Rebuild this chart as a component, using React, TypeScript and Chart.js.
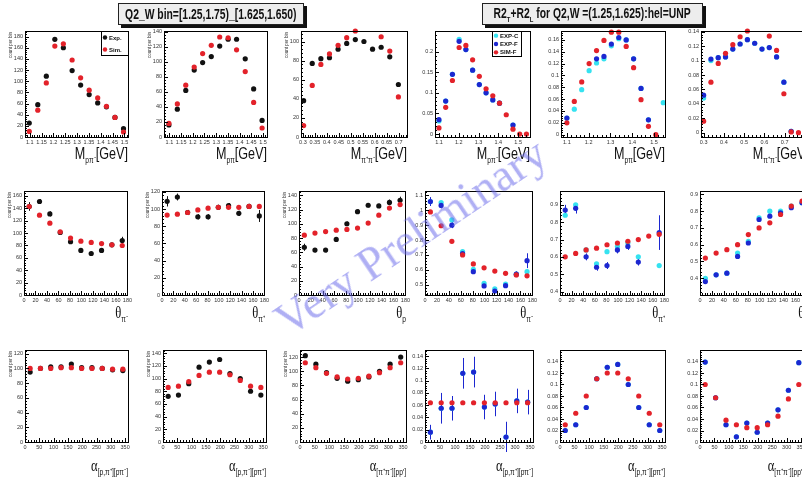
import React, { useEffect, useRef } from "react";
import { Chart, registerables } from "chart.js";

Chart.register(...registerables);

// ---------------- data ----------------
const M_PPI_BINS = [1.098, 1.134, 1.170, 1.206, 1.242, 1.279, 1.315, 1.351, 1.387, 1.424, 1.460, 1.496];
const M_PIPI_BINS = [0.303, 0.339, 0.375, 0.411, 0.447, 0.483, 0.519, 0.555, 0.591, 0.627, 0.663, 0.699];
const M_PPI_BINS_R = [1.100, 1.134, 1.168, 1.202, 1.236, 1.270, 1.304, 1.338, 1.372, 1.406, 1.440, 1.474, 1.508, 1.542];
const M_PIPI_BINS_R = [0.300, 0.336, 0.372, 0.408, 0.444, 0.480, 0.516, 0.552, 0.588, 0.624, 0.660, 0.696, 0.732, 0.768];
const THETA_BINS = [9, 27, 45, 63, 81, 99, 117, 135, 153, 171];
const ALPHA_BINS = [18, 54, 90, 126, 162, 198, 234, 270, 306, 342];

const M_TICKS_L = [1.1, 1.15, 1.2, 1.25, 1.3, 1.35, 1.4, 1.45, 1.5];
const MPIPI_TICKS_L = [0.3, 0.35, 0.4, 0.45, 0.5, 0.55, 0.6, 0.65, 0.7];
const M_TICKS_R = [1.1, 1.2, 1.3, 1.4, 1.5];
const MPIPI_TICKS_R = [0.3, 0.4, 0.5, 0.6, 0.7];
const THETA_TICKS = [0, 20, 40, 60, 80, 100, 120, 140, 160, 180];
const ALPHA_TICKS = [0, 50, 100, 150, 200, 250, 300, 350];

const Y_TICKS_180 = [0, 20, 40, 60, 80, 100, 120, 140, 160, 180];
const Y_TICKS_160 = [0, 20, 40, 60, 80, 100, 120, 140, 160];
const Y_TICKS_140 = [0, 20, 40, 60, 80, 100, 120, 140];
const Y_TICKS_120 = [0, 20, 40, 60, 80, 100, 120];
const Y_TICKS_100 = [0, 20, 40, 60, 80, 100];
const Y_TICKS_P20 = [0, 0.05, 0.1, 0.15, 0.2];
const Y_TICKS_P16 = [0, 0.02, 0.04, 0.06, 0.08, 0.1, 0.12, 0.14, 0.16];
const Y_TICKS_P14 = [0, 0.02, 0.04, 0.06, 0.08, 0.1, 0.12, 0.14];
const Y_TICKS_TH = [0.5, 0.6, 0.7, 0.8, 0.9, 1, 1.1];
const Y_TICKS_TH2 = [0.4, 0.5, 0.6, 0.7, 0.8, 0.9];

// row 1, left (Exp / Sim)
const p1Exp = [25, 58, 109, 175, 160, 119, 93, 76, 61, 54, 35, 15];
const p1Sim = [10, 48, 97, 163, 167, 138, 106, 84, 70, 55, 35, 9];
const p2Exp = [16, 37, 62, 89, 99, 107, 121, 130, 130, 104, 64, 22];
const p2Sim = [18, 44, 69, 93, 111, 122, 133, 132, 116, 87, 46, 12];
const p3Exp = [38, 77, 82, 83, 92, 98, 102, 100, 92, 94, 84, 55];
const p3Sim = [12, 54, 76, 87, 96, 104, 111, null, null, 105, 90, 42];
// row 1, right (EXP-C / EXP-F / SIM-F)
const p4ExpC = [0.032, 0.08, 0.145, 0.23, 0.205, 0.155, 0.12, 0.1, 0.083, 0.075, null, 0.022, null, null];
const p4ExpF = [0.035, 0.08, 0.145, 0.225, 0.205, 0.155, 0.12, 0.1, 0.083, 0.075, null, 0.022, null, null];
const p4SimF = [0.015, 0.065, 0.13, 0.21, 0.215, 0.18, 0.14, 0.11, 0.093, 0.075, 0.047, 0.012, 0, 0];
const p5ExpC = [0.028, 0.043, 0.076, 0.108, 0.121, 0.128, 0.15, 0.162, 0.16, 0.128, 0.078, 0.025, null, 0.054];
const p5ExpF = [0.028, null, null, null, 0.128, 0.132, 0.153, 0.164, 0.16, 0.128, 0.078, 0.025, null, null];
const p5SimF = [0.02, 0.056, 0.089, 0.12, 0.142, 0.159, 0.173, 0.173, 0.149, 0.113, 0.059, 0.014, 0, null];
const p6ExpC = [0.048, 0.1, 0.104, 0.105, 0.116, 0.123, 0.129, 0.124, 0.116, 0.118, 0.105, 0.07, 0.002, null];
const p6ExpF = [0.052, 0.102, 0.104, 0.105, 0.116, 0.123, 0.129, 0.124, 0.116, 0.118, 0.105, 0.07, 0.002, null];
const p6SimF = [0.016, 0.07, 0.096, 0.11, 0.122, 0.133, 0.141, null, null, 0.134, 0.114, 0.054, 0.001, 0];
// row 2, left
const p7Exp = [143, 151, 131, 101, 86, 72, 67, 72, 81, 88];
const p7ExpErr = [7, 4, 4, 3, 3, 3, 3, 3, 3, 6];
const p7Sim = [143, 129, 116, 102, 92, 87, 85, 83, 81, 80];
const p8Exp = [109, 114, 96, 91, 91, 102, 104, 95, 103, 92];
const p8ExpErr = [6, 4, 3, 3, 3, 3, 3, 3, 3, 7];
const p8Sim = [93, 94, 96, 99, 101, 102, 102, 102, 103, 103];
const p9Exp = [67, 63, 63, 78, 100, 117, 126, 125, 130, 133];
const p9ExpErr = [5, 3, 3, 3, 3, 3, 3, 3, 4, 5];
const p9Sim = [84, 87, 89, 91, 92, 94, 101, 112, 122, 127];
// row 2, right
const p10ExpC = [1.059, 1.052, 0.935, 0.722, 0.602, 0.509, 0.472, 0.504, 0.57, 0.587];
const p10ExpF = [1.059, 1.033, 0.9, 0.709, 0.587, 0.491, 0.457, 0.493, 0.57, 0.661];
const p10ExpFErr = [0.03, 0.02, 0.02, 0.01, 0.01, 0.01, 0.01, 0.01, 0.02, 0.05];
const p10SimF = [0.989, 0.896, 0.791, 0.7, 0.639, 0.613, 0.591, 0.576, 0.565, 0.559];
const p11ExpC = [0.84, 0.9, 0.64, 0.56, 0.63, 0.66, 0.68, 0.6, null, 0.55];
const p11ExpF = [0.87, 0.88, 0.6, 0.54, 0.55, 0.64, 0.66, 0.57, null, 0.74];
const p11ExpFErr = [0.03, 0.03, 0.02, 0.02, 0.02, 0.02, 0.02, 0.02, 0, 0.1];
const p11SimF = [0.6, 0.62, 0.64, 0.65, 0.67, 0.68, 0.69, 0.7, 0.72, 0.73];
const p12ExpC = [0.4, 0.42, 0.43, 0.55, 0.62, 0.76, 0.8, 0.8, 0.83, 0.85];
const p12ExpF = [0.38, 0.42, 0.43, 0.53, 0.61, 0.75, 0.77, 0.79, 0.82, 0.85];
const p12SimF = [0.52, 0.55, 0.57, 0.6, 0.66, 0.7, 0.73, 0.78, 0.83, 0.86];
// row 3, left
const p13Exp = [95, 100, 102, 102, 106, 101, 101, 100, 98, 97];
const p13Sim = [100, 100, 100, 101, 101, 100, 100, 100, 99, 99];
const p14Exp = [72, 74, 92, 118, 126, 130, 108, 100, 80, 74];
const p14Sim = [86, 88, 95, 105, 110, 110, 106, 97, 88, 86];
const p15Exp = [122, 110, 98, 90, 86, 88, 92, 100, 110, 120];
const p15Sim = [112, 105, 97, 92, 89, 90, 93, 98, 105, 112];
// row 3, right
const p16ExpF = [0.016, 0.055, 0.055, 0.112, 0.114, 0.057, 0.062, 0.008, 0.067, 0.065];
const p16ExpFErr = [0.012, 0.025, 0.02, 0.025, 0.025, 0.02, 0.02, 0.025, 0.02, 0.02];
const p16SimF = [0.064, 0.064, 0.064, 0.064, 0.064, 0.064, 0.064, 0.064, 0.064, 0.064];
const p17ExpC = [0.02, 0.03, 0.06, 0.11, 0.13, 0.135, 0.1, 0.06, 0.03, 0.02];
const p17ExpF = [0.02, 0.03, 0.06, 0.11, 0.13, 0.135, 0.1, 0.06, 0.03, 0.02];
const p17SimF = [0.03, 0.05, 0.08, 0.11, 0.12, 0.12, 0.11, 0.08, 0.05, 0.03];
const p18ExpF = [0.139, 0.077, 0.03, 0.009, 0.033, 0.017, 0.033, 0.056, 0.09, 0.138];
const p18SimF = [0.1, 0.077, 0.038, 0.03, 0.025, 0.025, 0.03, 0.045, 0.075, 0.1];

// ---------------- styles ----------------
const BLACK = "#111111";
const RED = "#e3222a";
const BLUE = "#1c27d0";
const CYAN = "#35e2f0";

type Series = { name: string; color: string; x: number[]; y: (number | null)[]; err?: number[] };
type Panel = {
  rect: [number, number, number, number];
  xMin: number; xMax: number; xTicks: number[];
  yMin: number; yMax: number; yTicks: number[];
  series: Series[];
  yTitle?: boolean;
  legend?: { x: number; y: number; w: number; h: number };
  title: { sym: string; sub: string; unit: string; serif: boolean };
};

const lr = (x: number[], e: (number | null)[], s: (number | null)[], eErr?: number[]): Series[] => [
  { name: "Exp.", color: BLACK, x, y: e, err: eErr },
  { name: "Sim.", color: RED, x, y: s },
];
const rr = (x: number[], c: (number | null)[], f: (number | null)[], s: (number | null)[], fErr?: number[]): Series[] => [
  { name: "EXP-C", color: CYAN, x, y: c },
  { name: "EXP-F", color: BLUE, x, y: f, err: fErr },
  { name: "SIM-F", color: RED, x, y: s },
];

const R1 = 31, H1 = 106, R2 = 191, H2 = 104, R3 = 350, H3 = 92;

const PANELS: Panel[] = [
  { rect: [25, R1, 103, H1], xMin: 1.08, xMax: 1.515, xTicks: M_TICKS_L, yMin: 0, yMax: 190, yTicks: Y_TICKS_180,
    series: lr(M_PPI_BINS, p1Exp, p1Sim), yTitle: true, legend: { x: 101, y: 31, w: 27, h: 24 },
    title: { sym: "M", sub: "pπ⁻", unit: "[GeV]", serif: false } },
  { rect: [164, R1, 103, H1], xMin: 1.077, xMax: 1.517, xTicks: M_TICKS_L, yMin: 0, yMax: 141, yTicks: Y_TICKS_140,
    series: lr(M_PPI_BINS, p2Exp, p2Sim), yTitle: true, title: { sym: "M", sub: "pπ", unit: "[GeV]", serif: false } },
  { rect: [301, R1, 106, H1], xMin: 0.292, xMax: 0.735, xTicks: MPIPI_TICKS_L, yMin: 0, yMax: 111, yTicks: Y_TICKS_100,
    series: lr(M_PIPI_BINS, p3Exp, p3Sim), yTitle: true, title: { sym: "M", sub: "π⁺π⁻", unit: "[GeV]", serif: false } },
  { rect: [435, R1, 95, H1], xMin: 1.08, xMax: 1.56, xTicks: M_TICKS_R, yMin: -0.007, yMax: 0.25, yTicks: Y_TICKS_P20,
    series: rr(M_PPI_BINS_R, p4ExpC, p4ExpF, p4SimF), legend: { x: 492, y: 31, w: 29, h: 25 },
    title: { sym: "M", sub: "pπ⁻", unit: "[GeV]", serif: false } },
  { rect: [561, R1, 104, H1], xMin: 1.073, xMax: 1.55, xTicks: M_TICKS_R, yMin: -0.004, yMax: 0.175, yTicks: Y_TICKS_P16,
    series: rr(M_PPI_BINS_R, p5ExpC, p5ExpF, p5SimF), title: { sym: "M", sub: "pπ", unit: "[GeV]", serif: false } },
  { rect: [701, R1, 108, H1], xMin: 0.287, xMax: 0.82, xTicks: MPIPI_TICKS_R, yMin: -0.006, yMax: 0.141, yTicks: Y_TICKS_P14,
    series: rr(M_PIPI_BINS_R, p6ExpC, p6ExpF, p6SimF), title: { sym: "M", sub: "π⁺π⁻", unit: "[GeV]", serif: false } },

  { rect: [24, R2, 104, H2], xMin: 0, xMax: 180, xTicks: THETA_TICKS, yMin: 0, yMax: 168, yTicks: Y_TICKS_160,
    series: lr(THETA_BINS, p7Exp, p7Sim, p7ExpErr), yTitle: true, title: { sym: "θ", sub: "π⁻", unit: "", serif: true } },
  { rect: [162, R2, 103, H2], xMin: 0, xMax: 180, xTicks: THETA_TICKS, yMin: 0, yMax: 121, yTicks: Y_TICKS_120,
    series: lr(THETA_BINS, p8Exp, p8Sim, p8ExpErr), yTitle: true, title: { sym: "θ", sub: "π⁺", unit: "", serif: true } },
  { rect: [299, R2, 107, H2], xMin: 0, xMax: 180, xTicks: THETA_TICKS, yMin: 0, yMax: 146, yTicks: Y_TICKS_140,
    series: lr(THETA_BINS, p9Exp, p9Sim, p9ExpErr), yTitle: true, title: { sym: "θ", sub: "p", unit: "", serif: true } },
  { rect: [425, R2, 108, H2], xMin: 0, xMax: 180, xTicks: THETA_TICKS, yMin: 0.43, yMax: 1.13, yTicks: Y_TICKS_TH,
    series: rr(THETA_BINS, p10ExpC, p10ExpF, p10SimF, p10ExpFErr), title: { sym: "θ", sub: "π⁻", unit: "", serif: true } },
  { rect: [560, R2, 105, H2], xMin: 0, xMax: 180, xTicks: THETA_TICKS, yMin: 0.38, yMax: 0.98, yTicks: Y_TICKS_TH2,
    series: rr(THETA_BINS, p11ExpC, p11ExpF, p11SimF, p11ExpFErr), title: { sym: "θ", sub: "π⁺", unit: "", serif: true } },
  { rect: [700, R2, 108, H2], xMin: 0, xMax: 180, xTicks: THETA_TICKS, yMin: 0.3, yMax: 0.92, yTicks: Y_TICKS_TH2,
    series: rr(THETA_BINS, p12ExpC, p12ExpF, p12SimF), title: { sym: "θ", sub: "p", unit: "", serif: true } },

  { rect: [25, R3, 103, H3], xMin: 0, xMax: 360, xTicks: ALPHA_TICKS, yMin: 0, yMax: 125, yTicks: Y_TICKS_120,
    series: lr(ALPHA_BINS, p13Exp, p13Sim), yTitle: true, title: { sym: "α", sub: "[p,π⁺][pπ⁻]", unit: "", serif: true } },
  { rect: [163, R3, 103, H3], xMin: 0, xMax: 360, xTicks: ALPHA_TICKS, yMin: 0, yMax: 145, yTicks: Y_TICKS_140,
    series: lr(ALPHA_BINS, p14Exp, p14Sim), yTitle: true, title: { sym: "α", sub: "[p,π⁻][pπ⁺]", unit: "", serif: true } },
  { rect: [300, R3, 106, H3], xMin: 0, xMax: 360, xTicks: ALPHA_TICKS, yMin: 0, yMax: 130, yTicks: Y_TICKS_120,
    series: lr(ALPHA_BINS, p15Exp, p15Sim), yTitle: true, title: { sym: "α", sub: "[π⁺π⁻][pp']", unit: "", serif: true } },
  { rect: [425, R3, 108, H3], xMin: 0, xMax: 360, xTicks: ALPHA_TICKS, yMin: 0, yMax: 0.15, yTicks: Y_TICKS_P14,
    series: rr(ALPHA_BINS, p16ExpF, p16ExpF, p16SimF, p16ExpFErr), title: { sym: "α", sub: "[p,π⁺][pπ⁻]", unit: "", serif: true } },
  { rect: [560, R3, 105, H3], xMin: 0, xMax: 360, xTicks: ALPHA_TICKS, yMin: 0, yMax: 0.16, yTicks: Y_TICKS_P14,
    series: rr(ALPHA_BINS, p17ExpC, p17ExpF, p17SimF), title: { sym: "α", sub: "[p,π⁻][pπ⁺]", unit: "", serif: true } },
  { rect: [700, R3, 104, H3], xMin: 0, xMax: 360, xTicks: ALPHA_TICKS, yMin: 0, yMax: 0.16, yTicks: Y_TICKS_P14,
    series: rr(ALPHA_BINS, p18ExpF, p18ExpF, p18SimF), title: { sym: "α", sub: "[π⁺π⁻][pp']", unit: "", serif: true } },
];

// ---------------- chart ----------------
const PAD_L = 20, PAD_R = 6, PAD_T = 6, PAD_B = 10;
const fmt = (v: number) => String(parseFloat(Number(v).toFixed(3)));

function drawAxisTicks(ctx: CanvasRenderingContext2D, chart: any, p: Panel) {
  const a = chart.chartArea;
  const xs = chart.scales.x, ys = chart.scales.y;
  ctx.save();
  ctx.strokeStyle = "#000";
  ctx.lineWidth = 1;
  const drawSet = (ticks: number[], min: number, max: number, isX: boolean) => {
    const step = ticks[1] - ticks[0];
    const minor = step / 5;
    for (let v = ticks[0] - step; v <= ticks[ticks.length - 1] + step + 1e-9; v += minor) {
      if (v < min - 1e-9 || v > max + 1e-9) continue;
      const k = Math.round((v - ticks[0]) / minor);
      const len = k % 5 === 0 ? 4 : 2;
      ctx.beginPath();
      if (isX) {
        const px = Math.round(xs.getPixelForValue(v)) + 0.5;
        ctx.moveTo(px, a.bottom);
        ctx.lineTo(px, a.bottom - len);
      } else {
        const py = Math.round(ys.getPixelForValue(v)) + 0.5;
        ctx.moveTo(a.left, py);
        ctx.lineTo(a.left + len, py);
      }
      ctx.stroke();
    }
  };
  drawSet(p.xTicks, p.xMin, p.xMax, true);
  drawSet(p.yTicks, p.yMin, p.yMax, false);
  ctx.strokeRect(Math.round(a.left) + 0.5, Math.round(a.top) + 0.5, Math.round(a.right - a.left), Math.round(a.bottom - a.top));
  ctx.restore();
}

function makeConfig(p: Panel, canvasLeft: number, canvasTop: number): any {
  const n = p.series.length;
  const datasets = p.series.map((s, i) => ({
    label: s.name,
    data: s.x
      .map((x, j) => ({ x, y: s.y[j], e: s.err ? s.err[j] : 0 }))
      .filter((d) => d.y !== null && d.y !== undefined),
    showLine: false,
    pointRadius: 2.6,
    pointHoverRadius: 2.6,
    pointBorderWidth: 0,
    pointBackgroundColor: s.color,
    borderColor: s.color,
    order: n - i,
    clip: false,
  }));
  const plugin = {
    id: "rootStyle",
    beforeDatasetsDraw(chart: any) {
      const ctx = chart.ctx as CanvasRenderingContext2D;
      const ys = chart.scales.y;
      ctx.save();
      ctx.lineWidth = 1;
      chart.data.datasets.forEach((ds: any, i: number) => {
        const meta = chart.getDatasetMeta(i);
        ds.data.forEach((d: any, j: number) => {
          if (!d.e) return;
          const el = meta.data[j];
          const px = Math.round(el.x) + 0.5;
          ctx.strokeStyle = ds.borderColor;
          ctx.beginPath();
          ctx.moveTo(px, ys.getPixelForValue(d.y + d.e));
          ctx.lineTo(px, ys.getPixelForValue(d.y - d.e));
          ctx.stroke();
        });
      });
      ctx.restore();
    },
    afterDraw(chart: any) {
      const ctx = chart.ctx as CanvasRenderingContext2D;
      drawAxisTicks(ctx, chart, p);
      const a = chart.chartArea;
      if (p.yTitle) {
        ctx.save();
        ctx.fillStyle = "#333";
        ctx.font = "4.5px 'Liberation Sans'";
        ctx.translate(a.left - 16, a.top + 1);
        ctx.rotate(-Math.PI / 2);
        ctx.textAlign = "right";
        ctx.textBaseline = "top";
        ctx.fillText("count per bin", 0, 0);
        ctx.restore();
      }
      if (p.legend) {
        const L = p.legend;
        const lx = L.x - canvasLeft, ly = L.y - canvasTop;
        ctx.save();
        ctx.fillStyle = "#fff";
        ctx.fillRect(lx, ly, L.w, L.h);
        ctx.strokeStyle = "#000";
        ctx.lineWidth = 1;
        ctx.strokeRect(Math.round(lx) + 0.5, Math.round(ly) + 0.5, L.w, L.h);
        const rowH = L.h / p.series.length;
        p.series.forEach((s, i) => {
          const cy = ly + rowH * (i + 0.5) + 0.5;
          ctx.fillStyle = s.color;
          ctx.beginPath();
          ctx.arc(lx + 4, cy, 2.2, 0, Math.PI * 2);
          ctx.fill();
          ctx.fillStyle = "#111";
          ctx.font = "bold 6px 'Liberation Sans'";
          ctx.textBaseline = "middle";
          ctx.fillText(s.name, lx + 8, cy + 0.5);
        });
        ctx.restore();
      }
    },
  };
  const tickFont = { size: 5.5, family: "'Liberation Sans', sans-serif" };
  return {
    type: "scatter",
    data: { datasets },
    options: {
      animation: false,
      responsive: false,
      devicePixelRatio: 1,
      events: [],
      layout: { padding: { left: 0, right: PAD_R, top: PAD_T, bottom: 0 } },
      plugins: { legend: { display: false }, tooltip: { enabled: false } },
      scales: {
        x: {
          type: "linear",
          min: p.xMin,
          max: p.xMax,
          afterBuildTicks: (ax: any) => {
            ax.ticks = p.xTicks.map((v) => ({ value: v }));
          },
          afterFit: (ax: any) => {
            ax.height = PAD_B;
          },
          grid: { display: false, drawTicks: false },
          border: { display: false },
          ticks: { font: tickFont, color: "#333", padding: 2, autoSkip: false, maxRotation: 0, minRotation: 0, callback: (v: number) => fmt(v) },
        },
        y: {
          type: "linear",
          min: p.yMin,
          max: p.yMax,
          afterBuildTicks: (ax: any) => {
            ax.ticks = p.yTicks.map((v) => ({ value: v }));
          },
          afterFit: (ax: any) => {
            ax.width = PAD_L;
          },
          grid: { display: false, drawTicks: false },
          border: { display: false },
          ticks: { font: tickFont, color: "#333", padding: 2, autoSkip: false, callback: (v: number) => fmt(v) },
        },
      },
    },
    plugins: [plugin],
  };
}

function PanelChart({ p }: { p: Panel }) {
  const ref = useRef<HTMLCanvasElement>(null);
  const [x, y, w, h] = p.rect;
  const left = x - PAD_L, top = y - PAD_T;
  const cw = w + PAD_L + PAD_R, ch = h + PAD_T + PAD_B;
  useEffect(() => {
    if (!ref.current) return;
    const chart = new Chart(ref.current, makeConfig(p, left, top));
    return () => chart.destroy();
  }, []);
  const t = p.title;
  const titleTop = y + h + (y === R1 ? 8 : y === R2 ? 9 : 15);
  return (
    <>
      <canvas ref={ref} width={cw} height={ch} style={{ position: "absolute", left, top, width: cw, height: ch }} />
      <div
        style={{
          position: "absolute",
          left: x + w - 160,
          width: 160,
          top: titleTop,
          textAlign: "right",
          whiteSpace: "nowrap",
          lineHeight: 1,
          color: "#111",
          fontFamily: t.serif ? "'Liberation Serif', serif" : "'Liberation Sans', sans-serif",
          fontSize: 17,
          transform: "scaleX(0.74)",
          transformOrigin: "100% 50%",
        }}
      >
        {t.sym}
        <span style={{ fontSize: 9, position: "relative", top: 4, fontFamily: "'Liberation Sans', sans-serif" }}>{t.sub}</span>
        {t.unit}
      </div>
    </>
  );
}

const boxStyle: React.CSSProperties = {
  position: "absolute",
  background: "#ededed",
  border: "1px solid #222",
  boxShadow: "3px 3px 0 #111",
  display: "flex",
  alignItems: "center",
  justifyContent: "center",
  fontFamily: "'Liberation Sans', sans-serif",
  fontWeight: "bold",
  fontSize: 14,
  color: "#111",
  whiteSpace: "nowrap",
};

export default function App() {
  return (
    <div style={{ position: "fixed", left: 0, top: 0, width: 802, height: 485, overflow: "hidden", background: "#fff" }}>
      {PANELS.map((p, i) => (
        <PanelChart key={i} p={p} />
      ))}
      <div style={{ ...boxStyle, left: 118, top: 3, width: 184, height: 20 }}>
        <span style={{ display: "inline-block", transform: "scaleX(0.74)" }}>Q2_W bin=[1.25,1.75)_[1.625,1.650)</span>
      </div>
      <div style={{ ...boxStyle, left: 482, top: 3, width: 219, height: 20 }}>
        <span style={{ display: "inline-block", transform: "scaleX(0.74)" }}>
          R2<sub style={{ fontSize: 8 }}>T</sub>+R2<sub style={{ fontSize: 8 }}>L</sub> for Q2,W =(1.25,1.625):hel=UNP
        </span>
      </div>
      <div
        style={{
          position: "absolute",
          left: 293,
          top: 298,
          fontFamily: "'Liberation Serif', serif",
          fontSize: 46,
          lineHeight: 1,
          color: "rgba(110,110,235,0.55)",
          whiteSpace: "nowrap",
          transform: "rotate(-34deg)",
          transformOrigin: "0% 100%",
          pointerEvents: "none",
        }}
      >
        Very Preliminary
      </div>
    </div>
  );
}
